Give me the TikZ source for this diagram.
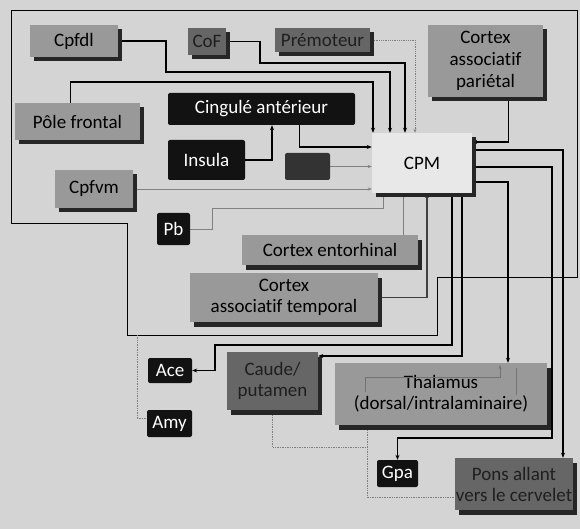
\documentclass[tikz,border=0pt]{standalone}
\usepackage{fontspec}
\setmainfont[Ligatures={NoCommon}]{Carlito}
\usetikzlibrary{shadows,arrows.meta}
\pgfdeclarelayer{bg}
\pgfsetlayers{bg,main}

\tikzset{
  box/.style={rectangle, inner sep=0pt, align=center,
    font=\fontsize{19}{22}\selectfont},
  shade box/.style={drop shadow={shadow xshift=3.5pt, shadow yshift=-4.5pt,
    fill=black!85, opacity=1}},
  lightbox/.style={box, shade box, fill=black!40, text=black},
  palebox/.style={box, shade box, fill=black!9, text=black},
  hatchbox/.style={box, shade box, fill=black!60, text=black!88},
  blackbox/.style={box, fill=black!93, text=white, rounded corners=2pt},
  link/.style={draw=black, line width=1.1pt, -{Stealth[length=5pt,width=4pt]}},
  boldlink/.style={link, line width=1.8pt},
  srclink/.style={link, {Circle[open,length=4pt,width=4pt]}-{Stealth[length=5pt,width=4pt]}},
  faint/.style={draw=black!50, line width=0.8pt, -{Stealth[length=4pt,width=3pt]}},
  faintline/.style={draw=black!50, line width=0.7pt, densely dotted},
  frameline/.style={draw=black, line width=0.9pt},
}

\begin{document}
\begin{tikzpicture}[x=1pt,y=-1pt]
\useasboundingbox (0,0) rectangle (580,529);

% ---- cortical areas ----
\node[lightbox, minimum width=88, minimum height=32] (cpfdl) at (74,41) {Cpfdl};
\node[hatchbox, minimum width=38, minimum height=27] (cof) at (207,41.5) {CoF};
\node[hatchbox, minimum width=95, minimum height=24] (premot) at (322.5,40) {Prémoteur};
\node[lightbox, minimum width=115, minimum height=72] (pariet) at (485.5,61) {Cortex\\associatif\\pariétal};
\node[lightbox, minimum width=125, minimum height=37] (pole) at (77.5,121.5) {Pôle frontal};
\node[blackbox, minimum width=187, minimum height=32] (cing) at (261.5,109) {Cingulé antérieur};
\node[blackbox, minimum width=77, minimum height=40] (insula) at (206.5,160) {Insula};
\node[blackbox, fill=black!80, minimum width=45, minimum height=27] (dark) at (307.5,166.5) {};
\node[palebox, minimum width=100, minimum height=60] (cpm) at (422,163) {CPM};
\node[lightbox, minimum width=78, minimum height=38] (cpfvm) at (94,189) {Cpfvm};
\node[blackbox, minimum width=33, minimum height=32] (pb) at (173.5,229) {Pb};
\node[lightbox, minimum width=176, minimum height=30] (ento) at (330,250) {Cortex entorhinal};
\node[lightbox, minimum width=188, minimum height=49, font=\fontsize{19}{21}\selectfont] (temp) at (284,297.5) {Cortex\\associatif temporal};

% ---- subcortical targets ----
\node[blackbox, minimum width=44, minimum height=25] (ace) at (170,370.5) {Ace};
\node[blackbox, minimum width=45, minimum height=27] (amy) at (169.5,423.5) {Amy};
\node[hatchbox, minimum width=91, minimum height=58, font=\fontsize{19}{21}\selectfont] (caude) at (272.5,381) {Caude/\\putamen};
\node[lightbox, minimum width=212, minimum height=62, font=\fontsize{19}{21}\selectfont] (thal) at (441,394) {Thalamus\\(dorsal/intralaminaire)};
\node[blackbox, minimum width=41, minimum height=27] (gpa) at (397.5,473.5) {Gpa};
\node[hatchbox, minimum width=118, minimum height=52, font=\fontsize{19}{21}\selectfont] (pons) at (514,484) {Pons allant\\vers le cervelet};

\coordinate (loopA) at (137,335);
\coordinate (thalB) at (367,447);

\begin{pgfonlayer}{bg}
  \fill[black!17] (0,0) rectangle (580,529);

  % surrounding loop
  \draw[frameline] (11,10) -- (577,10) -- (577,277) -- (437,277) -- (437,335)
    -- (127,335) -- (127,223) -- (11,223) -- cycle;

  % afferents to CPM from above
  \draw[srclink] (cof.east) -| (260,63) -| ([xshift=-17]cpm.north);
  \draw[srclink] (cpfdl.east) -| (166,72) -| ([xshift=-32]cpm.north);
  \draw[link] ([xshift=-7]pole.north) -- (70.5,82) -| ([xshift=-49]cpm.north);
  \draw[faint, densely dotted] (premot.east) -| ([xshift=-7]cpm.north);
  \draw[link] ([xshift=23]pariet.south) |- ([yshift=21]cpm.east);

  % afferents from the left
  \draw[link] ([xshift=38]cing.south) |- ([yshift=16]cpm.west);
  \draw[link] (insula.east) -| ([xshift=10.5]cing.south);
  \draw[faint] (dark.east) -- (dark.east -| cpm.west);
  \draw[faint] (cpfvm.east) -- (cpfvm.east -| cpm.west);

  % afferents from below
  \draw[faint] (pb.east) -| (212,208) -| ([xshift=-39]cpm.south);
  \draw[faint] ([xshift=73]ento.north) -- ([xshift=-19]cpm.south);
  \draw[link, draw=black!75] (temp.east) -| ([xshift=5]cpm.south);

  % CPM efferents
  \draw[boldlink] ([yshift=-19]cpm.east) -| ([xshift=67]thal.north);
  \draw[boldlink] ([yshift=-4]cpm.east) -| (552,438) -| (gpa.north);
  \draw[boldlink] ([yshift=13]cpm.east) -| ([xshift=49]pons.north);
  \draw[link, line width=1.4pt] ([xshift=30]cpm.south) |- (215,345) |- (ace.east);
  \draw[link, line width=1.4pt] ([xshift=40]cpm.south) |- ([yshift=25]caude.east);

  % faint subcortical links
  \draw[faintline] (loopA) |- ([yshift=5]amy.west);
  \draw[faintline] (caude.south) |- (thalB);
  \draw[faintline] ([xshift=-74]thal.south) |- ([yshift=-13]pons.west);
\end{pgfonlayer}

% loops inside the thalamus
\draw[draw=black!55, line width=0.8pt, -{Stealth[length=4pt,width=3pt]}]
  ([shift={(-76,-2)}]thal.center) -- ([shift={(-76,-17)}]thal.center)
  -- ([shift={(59,-17)}]thal.center) -- ([shift={(59,-29)}]thal.center);
\draw[draw=black!55, line width=0.8pt]
  ([shift={(75,-26)}]thal.center) -- ([shift={(75,1)}]thal.center);
\end{tikzpicture}
\end{document}
